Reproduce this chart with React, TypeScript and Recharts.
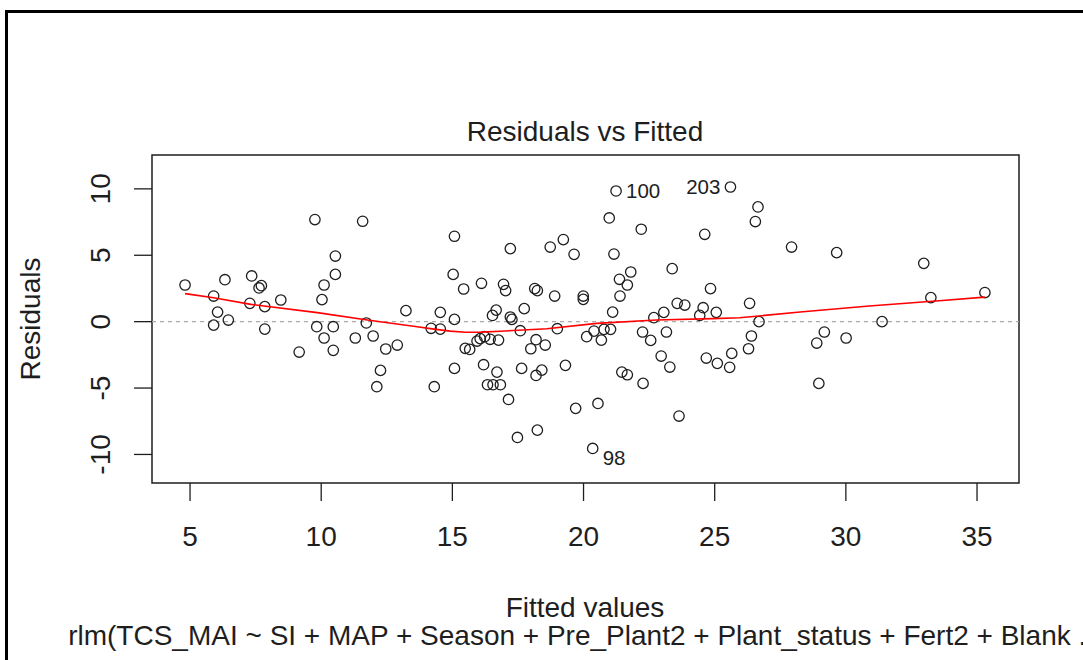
import React from "react";
import { ScatterChart, Scatter, XAxis, YAxis, ReferenceLine, ReferenceArea } from "recharts";

// fitted values and residuals
const fitted = [
  4.81, 5.9, 6.33, 6.05, 5.9, 6.46, 7.35, 7.63, 7.72, 7.28, 7.85, 7.85, 8.46, 9.16, 9.76, 10.54, 10.54, 10.11, 10.03, 9.83,
  10.46, 10.11, 10.46, 11.58, 11.72, 11.3, 11.98, 12.46, 12.9, 12.26, 12.12, 13.23, 14.54, 14.19, 14.54, 14.31,
  15.08, 15.03, 15.43, 15.08, 15.08, 16.11, 15.49, 15.66, 15.94, 16.06, 16.23, 16.44, 16.76, 16.67, 16.53, 16.19, 16.7,
  16.34, 16.55, 16.83, 17.14, 16.95, 17.03, 17.21, 17.21, 17.27, 17.59, 17.74, 17.64, 17.48, 18.24, 18.14, 18.24, 18.9,
  18.73, 19.23, 19.64, 18.19, 17.99, 18.54, 18.19, 18.41, 19.0, 19.31, 19.7, 19.99, 19.99, 20.12, 20.35, 20.55, 20.4,
  20.68, 20.78, 21.03, 21.11, 20.98, 21.16, 21.24, 21.37, 21.8, 21.67, 21.39, 21.46, 21.67, 22.2, 22.25, 22.56, 22.27,
  22.68, 23.06, 22.96, 23.29, 23.16, 23.38, 23.57, 23.86, 23.64, 24.62, 24.84, 24.56, 24.43, 25.06, 24.68, 25.1, 25.57,
  25.65, 25.6, 26.65, 26.55, 26.33, 26.69, 26.4, 26.29, 27.93, 29.65, 28.89, 29.18, 28.97, 30.01, 31.38, 32.97, 33.24,
  35.3,
];
const residuals = [
  2.76, 1.93, 3.16, 0.72, -0.26, 0.12, 3.44, 2.54, 2.71, 1.38, 1.13, -0.56, 1.63, -2.29, 7.69, 4.94, 3.56, 2.76, 1.66,
  -0.38, -0.38, -1.23, -2.16, 7.56, -0.1, -1.23, -1.08, -2.06, -1.76, -3.67, -4.9, 0.83, 0.7, -0.5, -0.56, -4.9,
  6.43, 3.56, 2.46, 0.17, -3.52, 2.89, -2.01, -2.09, -1.46, -1.28, -1.13, -1.33, -1.39, 0.87, 0.47, -3.24, -3.8,
  -4.75, -4.75, -4.75, -5.86, 2.81, 2.34, 5.5, 0.35, 0.17, -0.68, 0.98, -3.52, -8.72, -8.17, 2.49, 2.34, 1.93,
  5.62, 6.18, 5.07, -1.36, -2.04, -1.76, -4.05, -3.65, -0.53, -3.29, -6.53, 1.93, 1.68, -1.13, -9.55, -6.16, -0.71,
  -1.39, -0.58, -0.58, 0.72, 7.81, 5.09, 9.84, 3.19, 3.74, 2.76, 1.93, -3.8, -4.0, 6.96, -0.78, -1.41, -4.65,
  0.3, 0.7, -2.59, -3.42, -0.78, 3.99, 1.38, 1.25, -7.11, 6.58, 2.49, 1.05, 0.47, 0.7, -2.74, -3.14, -3.44,
  -2.39, 10.14, 8.64, 7.54, 1.38, 0.0, -1.08, -2.04, 5.62, 5.2, -1.61, -0.78, -4.65, -1.23, 0.0, 4.39, 1.81,
  2.19,
];

// smoother (red line)
const smoothX = [4.81, 5.9, 7.32, 9.85, 11.76, 13.66, 14.3, 14.92, 15.49, 16.1, 16.83, 17.7, 18.6, 20.5, 22.78, 24.94, 25.95, 28.36, 30.89, 33.43, 35.3];
const smoothY = [2.11, 1.8, 1.3, 0.68, 0.12, -0.38, -0.56, -0.71, -0.8, -0.79, -0.72, -0.63, -0.53, -0.13, 0.12, 0.23, 0.29, 0.75, 1.18, 1.55, 1.85];

// labelled observations
const idLabels = ["100", "203", "98"];
const idX = [21.24, 25.6, 20.35];
const idY = [9.84, 10.14, -9.55];

const xTicks = [5, 10, 15, 20, 25, 30, 35];
const yTicks = [-10, -5, 0, 5, 10];
const xDomain = [3.55, 36.6];
const yDomain = [-12.15, 12.55];

const points = fitted.map((x, i) => ({ x, y: residuals[i] }));
const smooth = smoothX.map((x, i) => ({ x, y: smoothY[i] }));
const ids = idLabels.map((label, i) => ({ x: idX[i], y: idY[i], label }));

const FONT = "'Liberation Sans', Arial, sans-serif";
const INK = "#1e1e1e";
const FS = 28;
// which ids get their label on the left of the point
const leftSide = ["203"];

const XTick = (props: any) => (
  <text x={props.x} y={props.y + 45} textAnchor="middle" fontSize={FS} fontFamily={FONT} fill={INK}>
    {props.payload.value}
  </text>
);

const YTick = (props: any) => {
  const tx = props.x - 24;
  return (
    <text x={tx} y={props.y} transform={`rotate(-90, ${tx}, ${props.y})`} textAnchor="middle" fontSize={FS} fontFamily={FONT} fill={INK}>
      {props.payload.value}
    </text>
  );
};

const Ring = (p: any) => <circle cx={p.cx} cy={p.cy} r={5.2} fill="none" stroke={INK} strokeWidth={1.3} />;

const IdText = (p: any) => {
  const label = p.payload.label;
  const left = leftSide.includes(label);
  const dy = p.payload.y < 0 ? 17 : 7;
  return (
    <text x={left ? p.cx - 10 : p.cx + 10} y={p.cy + dy} textAnchor={left ? "end" : "start"} fontSize={20.5} fontFamily={FONT} fill={INK}>
      {label}
    </text>
  );
};

export default function App() {
  return (
    <div style={{ position: "absolute", left: 0, top: 0, width: 1083, height: 660, overflow: "hidden", background: "#fff" }}>
      <div style={{ position: "absolute", left: 5, top: 10, width: 1200, height: 800, borderLeft: "3px solid #000", borderTop: "3px solid #000" }} />
      <svg width={1083} height={660} style={{ position: "absolute", left: 0, top: 0 }}>
        <text x={585} y={141} textAnchor="middle" fontSize={FS} fontFamily={FONT} fill={INK}>Residuals vs Fitted</text>
        <text x={585} y={617} textAnchor="middle" fontSize={FS} fontFamily={FONT} fill={INK}>Fitted values</text>
        <text x={585} y={645} textAnchor="middle" fontSize={FS} fontFamily={FONT} fill={INK}>
          rlm(TCS_MAI ~ SI + MAP + Season + Pre_Plant2 + Plant_status + Fert2 + Blank ...
        </text>
        <text x={40} y={319} transform="rotate(-90, 40, 319)" textAnchor="middle" fontSize={FS} fontFamily={FONT} fill={INK}>Residuals</text>
      </svg>
      <div style={{ position: "absolute", left: 0, top: 0 }}>
        <ScatterChart width={1083} height={660} margin={{ top: 155, right: 64, bottom: 117, left: 92 }}>
          <XAxis
            type="number"
            dataKey="x"
            domain={xDomain}
            ticks={xTicks}
            height={60}
            axisLine={false}
            tickSize={18}
            tickMargin={0}
            tickLine={{ stroke: INK, strokeWidth: 1.3 }}
            tick={XTick}
            allowDataOverflow
          />
          <YAxis
            type="number"
            dataKey="y"
            domain={yDomain}
            ticks={yTicks}
            width={60}
            axisLine={false}
            tickSize={18}
            tickMargin={0}
            tickLine={{ stroke: INK, strokeWidth: 1.3 }}
            tick={YTick}
            allowDataOverflow
          />
          <ReferenceLine y={0} stroke="#aaa" strokeDasharray="4 4" strokeWidth={1.2} />
          <ReferenceArea x1={xDomain[0]} x2={xDomain[1]} y1={yDomain[0]} y2={yDomain[1]} fill="none" stroke={INK} strokeWidth={1.5} fillOpacity={0} ifOverflow="visible" />
          <Scatter data={points} shape={Ring} isAnimationActive={false} />
          <Scatter data={smooth} line={{ stroke: "#ff0000", strokeWidth: 1.6 }} lineType="joint" shape={() => <g />} isAnimationActive={false} />
          <Scatter data={ids} shape={IdText} isAnimationActive={false} />
        </ScatterChart>
      </div>
    </div>
  );
}
